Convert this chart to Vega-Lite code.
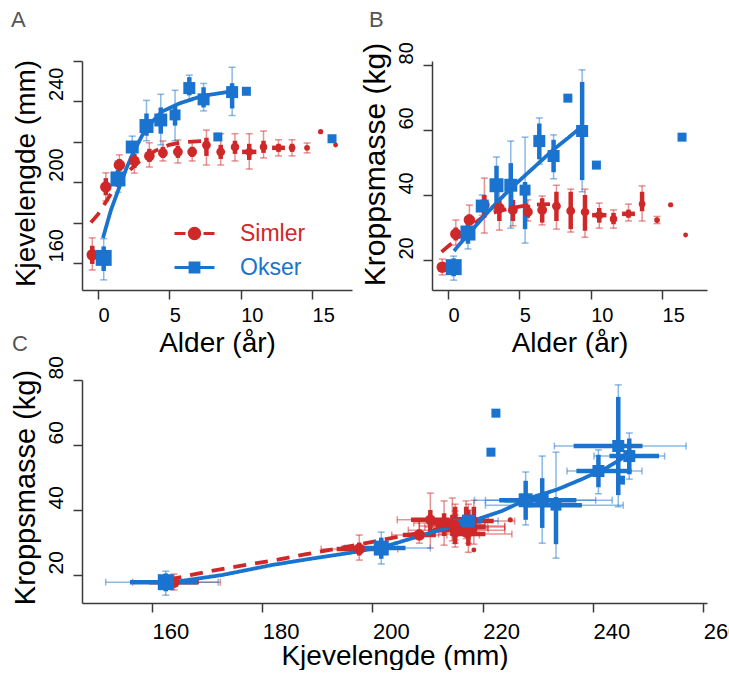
{
 "$schema": "https://vega.github.io/schema/vega-lite/v6.json",
 "background": "white",
 "padding": {"left": 10, "top": 8, "right": 0, "bottom": 0},
 "autosize": {"type": "pad"},
 "config": {
  "view": {"stroke": null},
  "axis": {"grid": false, "domainColor": "#3a3a3a", "tickColor": "#3a3a3a", "domainWidth": 1.5, "tickWidth": 1.5, "tickSize": 9,
   "labelFont": "Liberation Sans", "titleFont": "Liberation Sans", "labelFontSize": 20, "titleFontSize": 28, "titleFontWeight": "normal",
   "labelColor": "#000", "titleColor": "#000", "labelFlush": false, "labelOverlap": false, "titleBaseline": "alphabetic"},
  "axisX": {"labelAlign": "left", "labelBaseline": "alphabetic", "labelPadding": 22, "labelAngle": 0},
  "axisY": {"labelAngle": 270, "labelAlign": "left", "labelBaseline": "alphabetic", "labelPadding": 11, "labelOffset": -1, "titleAngle": 270, "titleAlign": "center"},
  "title": {"font": "Liberation Sans", "fontSize": 22, "fontWeight": "normal", "color": "#555555", "anchor": "start", "frame": "group", "baseline": "alphabetic"}
 },
 "datasets": {
  "pts": [
   {"sex":"Simler","age":-0.4,"n":44,"jaw":164,"jaw_lo":156.5,"jaw_hi":172.4,"jaw_lo2":159.5,"jaw_hi2":168.5,"mass":17.8,"mass_lo":15.4,"mass_hi":20.3,"mass_lo2":16.5,"mass_hi2":19.2,"age_lo2":null,"age_hi2":null},
   {"sex":"Simler","age":0.55,"n":44,"jaw":197.6,"jaw_lo":190.7,"jaw_hi":204.6,"jaw_lo2":193.5,"jaw_hi2":202,"mass":28,"mass_lo":24.6,"mass_hi":32.3,"mass_lo2":26,"mass_hi2":30,"age_lo2":null,"age_hi2":null},
   {"sex":"Simler","age":1.5,"n":44,"jaw":208.5,"jaw_lo":203.5,"jaw_hi":213.5,"jaw_lo2":205.5,"jaw_hi2":211.5,"mass":32.3,"mass_lo":29.8,"mass_hi":36.9,"mass_lo2":31,"mass_hi2":34,"age_lo2":null,"age_hi2":null},
   {"sex":"Simler","age":2.55,"n":38,"jaw":210.5,"jaw_lo":204.5,"jaw_hi":217,"jaw_lo2":207,"jaw_hi2":214,"mass":37,"mass_lo":28.3,"mass_hi":45.2,"mass_lo2":33,"mass_hi2":40,"age_lo2":null,"age_hi2":null},
   {"sex":"Simler","age":3.6,"n":38,"jaw":213,"jaw_lo":207.5,"jaw_hi":219.5,"jaw_lo2":210,"jaw_hi2":216.5,"mass":36,"mass_lo":29.2,"mass_hi":42.8,"mass_lo2":32,"mass_hi2":39,"age_lo2":null,"age_hi2":null},
   {"sex":"Simler","age":4.55,"n":32,"jaw":214.5,"jaw_lo":210.5,"jaw_hi":220.4,"jaw_lo2":212,"jaw_hi2":217.5,"mass":35.4,"mass_lo":30.5,"mass_hi":43.7,"mass_lo2":32,"mass_hi2":38.5,"age_lo2":null,"age_hi2":null},
   {"sex":"Simler","age":5.6,"n":32,"jaw":215,"jaw_lo":209.5,"jaw_hi":220.9,"jaw_lo2":212,"jaw_hi2":218,"mass":34.8,"mass_lo":32,"mass_hi":38.5,"mass_lo2":33,"mass_hi2":37,"age_lo2":null,"age_hi2":null},
   {"sex":"Simler","age":6.6,"n":32,"jaw":215,"jaw_lo":210.5,"jaw_hi":220.4,"jaw_lo2":212.5,"jaw_hi2":217.5,"mass":35.4,"mass_lo":30.8,"mass_hi":39.7,"mass_lo2":31.5,"mass_hi2":39,"age_lo2":null,"age_hi2":null},
   {"sex":"Simler","age":7.6,"n":26,"jaw":218.4,"jaw_lo":208.5,"jaw_hi":225.8,"jaw_lo2":213,"jaw_hi2":222,"mass":36.6,"mass_lo":29.5,"mass_hi":43,"mass_lo2":32,"mass_hi2":41,"age_lo2":null,"age_hi2":null},
   {"sex":"Simler","age":8.6,"n":26,"jaw":215,"jaw_lo":208.5,"jaw_hi":224,"jaw_lo2":211.5,"jaw_hi2":218.5,"mass":35.1,"mass_lo":28.6,"mass_hi":41.8,"mass_lo2":29.5,"mass_hi2":41,"age_lo2":null,"age_hi2":null},
   {"sex":"Simler","age":9.6,"n":24,"jaw":217.4,"jaw_lo":210.5,"jaw_hi":224,"jaw_lo2":214,"jaw_hi2":220.5,"mass":34.8,"mass_lo":27,"mass_hi":41.8,"mass_lo2":29,"mass_hi2":40,"age_lo2":null,"age_hi2":null},
   {"sex":"Simler","age":10.6,"n":21,"jaw":215,"jaw_lo":206.5,"jaw_hi":224,"jaw_lo2":211,"jaw_hi2":219,"mass":33.8,"mass_lo":29.8,"mass_hi":37.5,"mass_lo2":31.5,"mass_hi2":36,"age_lo2":10.1,"age_hi2":11.1},
   {"sex":"Simler","age":11.6,"n":19,"jaw":217.4,"jaw_lo":212,"jaw_hi":225.3,"jaw_lo2":214.5,"jaw_hi2":220.5,"mass":32.6,"mass_lo":29.8,"mass_hi":35.4,"mass_lo2":31,"mass_hi2":34.5,"age_lo2":null,"age_hi2":null},
   {"sex":"Simler","age":12.65,"n":15,"jaw":217,"jaw_lo":213,"jaw_hi":221,"jaw_lo2":215,"jaw_hi2":219,"mass":34.2,"mass_lo":32,"mass_hi":37.2,"mass_lo2":33,"mass_hi2":35.5,"age_lo2":12.2,"age_hi2":13.1},
   {"sex":"Simler","age":13.6,"n":15,"jaw":217,"jaw_lo":213,"jaw_hi":221,"jaw_lo2":215,"jaw_hi2":219,"mass":37.2,"mass_lo":32,"mass_hi":42.8,"mass_lo2":35,"mass_hi2":41,"age_lo2":null,"age_hi2":null},
   {"sex":"Simler","age":14.65,"n":11,"jaw":217,"jaw_lo":214.5,"jaw_hi":219.4,"jaw_lo2":null,"jaw_hi2":null,"mass":32.3,"mass_lo":31.2,"mass_hi":33.4,"mass_lo2":null,"mass_hi2":null,"age_lo2":null,"age_hi2":null},
   {"sex":"Simler","age":15.6,"n":9,"jaw":225,"jaw_lo":null,"jaw_hi":null,"jaw_lo2":null,"jaw_hi2":null,"mass":37,"mass_lo":null,"mass_hi":null,"mass_lo2":null,"mass_hi2":null,"age_lo2":null,"age_hi2":null},
   {"sex":"Simler","age":16.65,"n":8,"jaw":218.4,"jaw_lo":null,"jaw_hi":null,"jaw_lo2":null,"jaw_hi2":null,"mass":27.7,"mass_lo":null,"mass_hi":null,"mass_lo2":null,"mass_hi2":null,"age_lo2":null,"age_hi2":null},
   {"sex":"Okser","age":0.4,"n":85,"jaw":162.5,"jaw_lo":151.6,"jaw_hi":172,"jaw_lo2":156,"jaw_hi2":168.2,"mass":17.8,"mass_lo":13.8,"mass_hi":21.2,"mass_lo2":15,"mass_hi2":20.5,"age_lo2":null,"age_hi2":null},
   {"sex":"Okser","age":1.4,"n":75,"jaw":201.6,"jaw_lo":195,"jaw_hi":210.5,"jaw_lo2":198,"jaw_hi2":206,"mass":28.3,"mass_lo":23.4,"mass_hi":33.2,"mass_lo2":25,"mass_hi2":31.5,"age_lo2":null,"age_hi2":null},
   {"sex":"Okser","age":2.4,"n":56,"jaw":217.4,"jaw_lo":212.5,"jaw_hi":222.8,"jaw_lo2":214.5,"jaw_hi2":220,"mass":36.6,"mass_lo":33.8,"mass_hi":40,"mass_lo2":35,"mass_hi2":38.5,"age_lo2":null,"age_hi2":null},
   {"sex":"Okser","age":3.4,"n":65,"jaw":227.8,"jaw_lo":220.5,"jaw_hi":240.5,"jaw_lo2":223,"jaw_hi2":234,"mass":43,"mass_lo":35.4,"mass_hi":51.7,"mass_lo2":37,"mass_hi2":49,"age_lo2":null,"age_hi2":null},
   {"sex":"Okser","age":4.4,"n":56,"jaw":230.8,"jaw_lo":218.5,"jaw_hi":243.5,"jaw_lo2":224,"jaw_hi2":237,"mass":43,"mass_lo":29.8,"mass_hi":56.6,"mass_lo2":34.5,"mass_hi2":49.8,"age_lo2":null,"age_hi2":null},
   {"sex":"Okser","age":5.4,"n":40,"jaw":233.3,"jaw_lo":220.5,"jaw_hi":245.5,"jaw_lo2":228,"jaw_hi2":238,"mass":41.5,"mass_lo":25.2,"mass_hi":57.8,"mass_lo2":29.5,"mass_hi2":44,"age_lo2":null,"age_hi2":null},
   {"sex":"Okser","age":6.4,"n":48,"jaw":246.6,"jaw_lo":240.2,"jaw_hi":253,"jaw_lo2":243,"jaw_hi2":252,"mass":56.6,"mass_lo":49.5,"mass_hi":63.7,"mass_lo2":51,"mass_hi2":62,"age_lo2":null,"age_hi2":null},
   {"sex":"Okser","age":7.4,"n":48,"jaw":241,"jaw_lo":235.3,"jaw_hi":248.9,"jaw_lo2":237,"jaw_hi2":247,"mass":52,"mass_lo":45,"mass_hi":58.5,"mass_lo2":47,"mass_hi2":57,"age_lo2":null,"age_hi2":null},
   {"sex":"Okser","age":8.4,"n":27,"jaw":222.4,"jaw_lo":null,"jaw_hi":null,"jaw_lo2":null,"jaw_hi2":null,"mass":69.8,"mass_lo":null,"mass_hi":null,"mass_lo2":null,"mass_hi2":null,"age_lo2":null,"age_hi2":null},
   {"sex":"Okser","age":9.4,"n":48,"jaw":244.6,"jaw_lo":233,"jaw_hi":256.9,"jaw_lo2":236.5,"jaw_hi2":249,"mass":59.7,"mass_lo":41,"mass_hi":78.5,"mass_lo2":44.6,"mass_hi2":74.8,"age_lo2":null,"age_hi2":null},
   {"sex":"Okser","age":10.4,"n":27,"jaw":245,"jaw_lo":null,"jaw_hi":null,"jaw_lo2":null,"jaw_hi2":null,"mass":49.2,"mass_lo":null,"mass_hi":null,"mass_lo2":null,"mass_hi2":null,"age_lo2":null,"age_hi2":null},
   {"sex":"Okser","age":16.4,"n":27,"jaw":221.5,"jaw_lo":null,"jaw_hi":null,"jaw_lo2":null,"jaw_hi2":null,"mass":57.8,"mass_lo":null,"mass_hi":null,"mass_lo2":null,"mass_hi2":null,"age_lo2":null,"age_hi2":null}
  ],
  "curves": [
   {"panel":"A","sex":"Simler","x":-0.5,"y":180},{"panel":"A","sex":"Simler","x":0,"y":184},{"panel":"A","sex":"Simler","x":0.8,"y":193},{"panel":"A","sex":"Simler","x":1.5,"y":200.5},{"panel":"A","sex":"Simler","x":2,"y":204.5},{"panel":"A","sex":"Simler","x":3,"y":211},{"panel":"A","sex":"Simler","x":4,"y":215.5},{"panel":"A","sex":"Simler","x":5,"y":218.5},{"panel":"A","sex":"Simler","x":6,"y":219.8},{"panel":"A","sex":"Simler","x":7.6,"y":220.5},
   {"panel":"A","sex":"Okser","x":0.35,"y":172.4},{"panel":"A","sex":"Okser","x":0.9,"y":186},{"panel":"A","sex":"Okser","x":1.47,"y":197},{"panel":"A","sex":"Okser","x":2,"y":207},{"panel":"A","sex":"Okser","x":2.4,"y":213.5},{"panel":"A","sex":"Okser","x":3.36,"y":226.8},{"panel":"A","sex":"Okser","x":4.5,"y":235},{"panel":"A","sex":"Okser","x":5.7,"y":239},{"panel":"A","sex":"Okser","x":7.3,"y":242.7},{"panel":"A","sex":"Okser","x":9.4,"y":245},
   {"panel":"B","sex":"Simler","x":-0.45,"y":22.5},{"panel":"B","sex":"Simler","x":0.5,"y":26},{"panel":"B","sex":"Simler","x":1.5,"y":30},{"panel":"B","sex":"Simler","x":2.5,"y":33.5},{"panel":"B","sex":"Simler","x":3.5,"y":35},{"panel":"B","sex":"Simler","x":4.5,"y":36},{"panel":"B","sex":"Simler","x":5.5,"y":36.8},{"panel":"B","sex":"Simler","x":6.5,"y":37.1},{"panel":"B","sex":"Simler","x":7.6,"y":37.3},
   {"panel":"B","sex":"Okser","x":0.42,"y":22.8},{"panel":"B","sex":"Okser","x":1.4,"y":27.8},{"panel":"B","sex":"Okser","x":2.4,"y":32.8},{"panel":"B","sex":"Okser","x":3.4,"y":37.6},{"panel":"B","sex":"Okser","x":4.4,"y":42},{"panel":"B","sex":"Okser","x":5.4,"y":46},{"panel":"B","sex":"Okser","x":6.4,"y":50},{"panel":"B","sex":"Okser","x":7.4,"y":54},{"panel":"B","sex":"Okser","x":8.4,"y":57.5},{"panel":"B","sex":"Okser","x":9.3,"y":60.8},
   {"panel":"C","sex":"Simler","x":163,"y":18.6},{"panel":"C","sex":"Simler","x":170,"y":21},{"panel":"C","sex":"Simler","x":176,"y":22.8},{"panel":"C","sex":"Simler","x":182,"y":24.5},{"panel":"C","sex":"Simler","x":188,"y":26.4},{"panel":"C","sex":"Simler","x":194,"y":28.3},{"panel":"C","sex":"Simler","x":200,"y":30.2},{"panel":"C","sex":"Simler","x":206,"y":32.2},{"panel":"C","sex":"Simler","x":211,"y":33.6},{"panel":"C","sex":"Simler","x":216,"y":34.8},
   {"panel":"C","sex":"Okser","x":162.5,"y":17.5},{"panel":"C","sex":"Okser","x":172.7,"y":20},{"panel":"C","sex":"Okser","x":181.8,"y":23.1},{"panel":"C","sex":"Okser","x":188,"y":24.8},{"panel":"C","sex":"Okser","x":195.8,"y":26.8},{"panel":"C","sex":"Okser","x":202.5,"y":28.9},{"panel":"C","sex":"Okser","x":210.3,"y":32.9},{"panel":"C","sex":"Okser","x":218,"y":36.6},{"panel":"C","sex":"Okser","x":223.5,"y":39.7},{"panel":"C","sex":"Okser","x":228.4,"y":43.6},{"panel":"C","sex":"Okser","x":233.5,"y":46.3},{"panel":"C","sex":"Okser","x":238,"y":49.5},{"panel":"C","sex":"Okser","x":242.4,"y":52.9},{"panel":"C","sex":"Okser","x":246.6,"y":57.2}
  ]
 },
 "vconcat": [
  {
   "hconcat": [
    {
     "width": 270, "height": 229,
     "title": {"text": "A", "dx": -71, "offset": 27},
     "layer": [
      {"data": {"name": "pts"}, "transform": [{"filter": "isValid(datum.jaw_lo)"}],
       "mark": {"type": "rule", "strokeWidth": 1.5, "opacity": 0.5},
       "encoding": {
        "x": {"field": "age", "type": "quantitative", "scale": {"domain": [-1.12, 17.8], "nice": false, "zero": false}, "axis": {"title": "Alder (år)", "values": [0, 5, 10, 15], "titleY": 61}},
        "y": {"field": "jaw_lo", "type": "quantitative", "scale": {"domain": [146.6, 260], "nice": false, "zero": false}, "axis": {"title": "Kjevelengde (mm)", "values": [160, 180, 200, 220, 240, 260], "labelExpr": "(datum.value == 180 || datum.value == 220 || datum.value == 260) ? '' : datum.label", "titleX": -48, "titleY": 112}},
        "y2": {"field": "jaw_hi"},
        "color": {"field": "sex", "type": "nominal", "scale": {"domain": ["Simler", "Okser"], "range": ["#CF2828", "#1A73CE"]},
         "legend": {"title": null, "orient": "none", "legendX": 91, "legendY": 151, "symbolSize": 1600, "labelFont": "Liberation Sans", "labelFontSize": 23, "labelOffset": 24, "rowPadding": -15, "padding": 0, "symbolStrokeWidth": 3, "symbolOpacity": 1,
          "encode": {
           "symbols": {"update": {
            "shape": {"signal": "datum.value === 'Simler' ? 'M-1,0H-0.45M0.45,0H1M-0.26,0A0.26,0.26,0,1,1,0.26,0A0.26,0.26,0,1,1,-0.26,0Z' : 'M-1,0H1M-0.22,-0.22H0.22V0.22H-0.22Z'"},
            "fill": {"signal": "datum.value === 'Simler' ? '#CF2828' : '#1A73CE'"},
            "stroke": {"signal": "datum.value === 'Simler' ? '#CF2828' : '#1A73CE'"},
            "strokeWidth": {"value": 3}, "opacity": {"value": 1}, "fillOpacity": {"value": 1}, "strokeOpacity": {"value": 1}}},
           "labels": {"update": {"fill": {"signal": "datum.value === 'Simler' ? '#CF2828' : '#1A73CE'"}}}}}}}},
      {"data": {"name": "pts"}, "transform": [{"filter": "isValid(datum.jaw_lo)"}],
       "mark": {"type": "tick", "orient": "horizontal", "size": 7, "thickness": 1.5, "opacity": 0.5},
       "encoding": {"x": {"field": "age", "type": "quantitative"}, "y": {"field": "jaw_lo", "type": "quantitative"}, "color": {"field": "sex", "type": "nominal"}}},
      {"data": {"name": "pts"}, "transform": [{"filter": "isValid(datum.jaw_hi)"}],
       "mark": {"type": "tick", "orient": "horizontal", "size": 7, "thickness": 1.5, "opacity": 0.5},
       "encoding": {"x": {"field": "age", "type": "quantitative"}, "y": {"field": "jaw_hi", "type": "quantitative"}, "color": {"field": "sex", "type": "nominal"}}},
      {"data": {"name": "pts"}, "transform": [{"filter": "isValid(datum.jaw_lo2)"}],
       "mark": {"type": "rule", "strokeWidth": 4.5},
       "encoding": {"x": {"field": "age", "type": "quantitative"}, "y": {"field": "jaw_lo2", "type": "quantitative"}, "y2": {"field": "jaw_hi2"}, "color": {"field": "sex", "type": "nominal"}}},
      {"data": {"name": "pts"}, "transform": [{"filter": "isValid(datum.age_lo2)"}],
       "mark": {"type": "rule", "strokeWidth": 4.5},
       "encoding": {"x": {"field": "age_lo2", "type": "quantitative"}, "x2": {"field": "age_hi2"}, "y": {"field": "jaw", "type": "quantitative"}, "color": {"field": "sex", "type": "nominal"}}},
      {"data": {"name": "curves"}, "transform": [{"filter": "datum.panel == 'A'"}],
       "mark": {"type": "line", "strokeWidth": 3.8},
       "encoding": {"x": {"field": "x", "type": "quantitative"}, "y": {"field": "y", "type": "quantitative"}, "color": {"field": "sex", "type": "nominal"},
        "strokeDash": {"field": "sex", "type": "nominal", "scale": {"domain": ["Simler", "Okser"], "range": [[13, 9], [1, 0]]}, "legend": null}}},
      {"data": {"name": "pts"},
       "mark": {"type": "point", "filled": true, "opacity": 1, "strokeWidth": 0},
       "encoding": {"x": {"field": "age", "type": "quantitative"}, "y": {"field": "jaw", "type": "quantitative"},
        "color": {"field": "sex", "type": "nominal"},
        "shape": {"field": "sex", "type": "nominal", "scale": {"domain": ["Simler", "Okser"], "range": ["circle", "square"]}, "legend": null},
        "size": {"field": "n", "type": "quantitative", "scale": {"type": "linear", "domain": [0, 100], "range": [0, 300]}, "legend": null}}}
     ]
    },
    {
     "width": 275, "height": 229,
     "title": {"text": "B", "dx": -63, "offset": 10},
     "layer": [
      {"data": {"name": "pts"}, "transform": [{"filter": "isValid(datum.mass_lo)"}],
       "mark": {"type": "rule", "strokeWidth": 1.5, "opacity": 0.5},
       "encoding": {
        "x": {"field": "age", "type": "quantitative", "scale": {"domain": [-1.12, 18.15], "nice": false, "zero": false}, "axis": {"title": "Alder (år)", "values": [0, 5, 10, 15], "titleY": 61}},
        "y": {"field": "mass_lo", "type": "quantitative", "scale": {"domain": [10.77, 81.23], "nice": false, "zero": false}, "axis": {"title": "Kroppsmasse (kg)", "titleFontSize": 30, "values": [20, 30, 40, 50, 60, 70, 80], "labelExpr": "(datum.value % 20 == 0) ? datum.label : ''", "titleX": -48, "titleY": 103}},
        "y2": {"field": "mass_hi"},
        "color": {"field": "sex", "type": "nominal", "scale": {"domain": ["Simler", "Okser"], "range": ["#CF2828", "#1A73CE"]}, "legend": null}}},
      {"data": {"name": "pts"}, "transform": [{"filter": "isValid(datum.mass_lo)"}],
       "mark": {"type": "tick", "orient": "horizontal", "size": 7, "thickness": 1.5, "opacity": 0.5},
       "encoding": {"x": {"field": "age", "type": "quantitative"}, "y": {"field": "mass_lo", "type": "quantitative"}, "color": {"field": "sex", "type": "nominal", "legend": null}}},
      {"data": {"name": "pts"}, "transform": [{"filter": "isValid(datum.mass_hi)"}],
       "mark": {"type": "tick", "orient": "horizontal", "size": 7, "thickness": 1.5, "opacity": 0.5},
       "encoding": {"x": {"field": "age", "type": "quantitative"}, "y": {"field": "mass_hi", "type": "quantitative"}, "color": {"field": "sex", "type": "nominal", "legend": null}}},
      {"data": {"name": "pts"}, "transform": [{"filter": "isValid(datum.mass_lo2)"}],
       "mark": {"type": "rule", "strokeWidth": 4.5},
       "encoding": {"x": {"field": "age", "type": "quantitative"}, "y": {"field": "mass_lo2", "type": "quantitative"}, "y2": {"field": "mass_hi2"}, "color": {"field": "sex", "type": "nominal", "legend": null}}},
      {"data": {"name": "pts"}, "transform": [{"filter": "isValid(datum.age_lo2)"}],
       "mark": {"type": "rule", "strokeWidth": 4.5},
       "encoding": {"x": {"field": "age_lo2", "type": "quantitative"}, "x2": {"field": "age_hi2"}, "y": {"field": "mass", "type": "quantitative"}, "color": {"field": "sex", "type": "nominal", "legend": null}}},
      {"data": {"name": "curves"}, "transform": [{"filter": "datum.panel == 'B'"}],
       "mark": {"type": "line", "strokeWidth": 3.8},
       "encoding": {"x": {"field": "x", "type": "quantitative"}, "y": {"field": "y", "type": "quantitative"}, "color": {"field": "sex", "type": "nominal", "legend": null},
        "strokeDash": {"field": "sex", "type": "nominal", "scale": {"domain": ["Simler", "Okser"], "range": [[13, 9], [1, 0]]}, "legend": null}}},
      {"data": {"name": "pts"},
       "mark": {"type": "point", "filled": true, "opacity": 1, "strokeWidth": 0},
       "encoding": {"x": {"field": "age", "type": "quantitative"}, "y": {"field": "mass", "type": "quantitative"},
        "color": {"field": "sex", "type": "nominal", "legend": null},
        "shape": {"field": "sex", "type": "nominal", "scale": {"domain": ["Simler", "Okser"], "range": ["circle", "square"]}, "legend": null},
        "size": {"field": "n", "type": "quantitative", "scale": {"type": "linear", "domain": [0, 100], "range": [0, 300]}, "legend": null}}}
     ]
    }
   ],
   "spacing": 80,
   "bounds": "flush",
   "resolve": {"legend": {"color": "independent"}}
  },
  {
   "width": 625, "height": 223,
   "title": {"text": "C", "dx": -70, "offset": 0},
   "layer": [
    {"data": {"name": "pts"}, "transform": [{"filter": "isValid(datum.mass_lo)"}],
     "mark": {"type": "rule", "strokeWidth": 1.5, "opacity": 0.5},
     "encoding": {
      "x": {"field": "jaw", "type": "quantitative", "scale": {"domain": [147.3, 260.7], "nice": false, "zero": false}, "axis": {"title": "Kjevelengde (mm)", "values": [160, 180, 200, 220, 240, 260], "labelFontSize": 22, "labelPadding": 26, "titleY": 61}},
      "y": {"field": "mass_lo", "type": "quantitative", "scale": {"domain": [11.4, 80], "nice": false, "zero": false}, "axis": {"title": "Kroppsmasse (kg)", "titleFontSize": 29, "values": [20, 30, 40, 50, 60, 70, 80], "labelExpr": "(datum.value % 20 == 0) ? datum.label : ''", "labelFontSize": 21, "titleX": -48, "titleY": 107}},
      "y2": {"field": "mass_hi"},
      "color": {"field": "sex", "type": "nominal", "scale": {"domain": ["Simler", "Okser"], "range": ["#CF2828", "#1A73CE"]}, "legend": null}}},
    {"data": {"name": "pts"}, "transform": [{"filter": "isValid(datum.mass_lo)"}],
     "mark": {"type": "tick", "orient": "horizontal", "size": 7, "thickness": 1.5, "opacity": 0.5},
     "encoding": {"x": {"field": "jaw", "type": "quantitative"}, "y": {"field": "mass_lo", "type": "quantitative"}, "color": {"field": "sex", "type": "nominal", "legend": null}}},
    {"data": {"name": "pts"}, "transform": [{"filter": "isValid(datum.mass_hi)"}],
     "mark": {"type": "tick", "orient": "horizontal", "size": 7, "thickness": 1.5, "opacity": 0.5},
     "encoding": {"x": {"field": "jaw", "type": "quantitative"}, "y": {"field": "mass_hi", "type": "quantitative"}, "color": {"field": "sex", "type": "nominal", "legend": null}}},
    {"data": {"name": "pts"}, "transform": [{"filter": "isValid(datum.jaw_lo)"}],
     "mark": {"type": "rule", "strokeWidth": 1.5, "opacity": 0.5},
     "encoding": {"x": {"field": "jaw_lo", "type": "quantitative"}, "x2": {"field": "jaw_hi"}, "y": {"field": "mass", "type": "quantitative"}, "color": {"field": "sex", "type": "nominal", "legend": null}}},
    {"data": {"name": "pts"}, "transform": [{"filter": "isValid(datum.jaw_lo)"}],
     "mark": {"type": "tick", "orient": "vertical", "size": 7, "thickness": 1.5, "opacity": 0.5},
     "encoding": {"x": {"field": "jaw_lo", "type": "quantitative"}, "y": {"field": "mass", "type": "quantitative"}, "color": {"field": "sex", "type": "nominal", "legend": null}}},
    {"data": {"name": "pts"}, "transform": [{"filter": "isValid(datum.jaw_hi)"}],
     "mark": {"type": "tick", "orient": "vertical", "size": 7, "thickness": 1.5, "opacity": 0.5},
     "encoding": {"x": {"field": "jaw_hi", "type": "quantitative"}, "y": {"field": "mass", "type": "quantitative"}, "color": {"field": "sex", "type": "nominal", "legend": null}}},
    {"data": {"name": "pts"}, "transform": [{"filter": "isValid(datum.mass_lo2)"}],
     "mark": {"type": "rule", "strokeWidth": 4.5},
     "encoding": {"x": {"field": "jaw", "type": "quantitative"}, "y": {"field": "mass_lo2", "type": "quantitative"}, "y2": {"field": "mass_hi2"}, "color": {"field": "sex", "type": "nominal", "legend": null}}},
    {"data": {"name": "pts"}, "transform": [{"filter": "isValid(datum.jaw_lo2)"}],
     "mark": {"type": "rule", "strokeWidth": 4.5},
     "encoding": {"x": {"field": "jaw_lo2", "type": "quantitative"}, "x2": {"field": "jaw_hi2"}, "y": {"field": "mass", "type": "quantitative"}, "color": {"field": "sex", "type": "nominal", "legend": null}}},
    {"data": {"name": "curves"}, "transform": [{"filter": "datum.panel == 'C'"}],
     "mark": {"type": "line", "strokeWidth": 3.8},
     "encoding": {"x": {"field": "x", "type": "quantitative"}, "y": {"field": "y", "type": "quantitative"}, "color": {"field": "sex", "type": "nominal", "legend": null},
      "strokeDash": {"field": "sex", "type": "nominal", "scale": {"domain": ["Simler", "Okser"], "range": [[13, 9], [1, 0]]}, "legend": null}}},
    {"data": {"name": "pts"},
     "mark": {"type": "point", "filled": true, "opacity": 1, "strokeWidth": 0},
     "encoding": {"x": {"field": "jaw", "type": "quantitative"}, "y": {"field": "mass", "type": "quantitative"},
      "color": {"field": "sex", "type": "nominal", "legend": null},
      "shape": {"field": "sex", "type": "nominal", "scale": {"domain": ["Simler", "Okser"], "range": ["circle", "square"]}, "legend": null},
      "size": {"field": "n", "type": "quantitative", "scale": {"type": "linear", "domain": [0, 100], "range": [0, 300]}, "legend": null}}}
   ]
  }
 ],
 "spacing": -25,
 "resolve": {"legend": {"color": "independent"}}
}
